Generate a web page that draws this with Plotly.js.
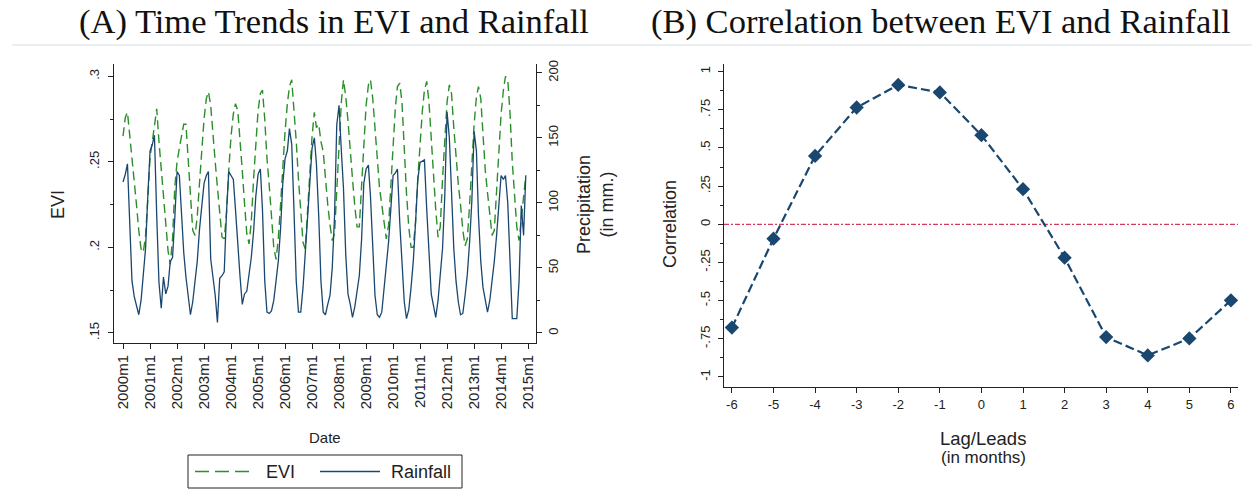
<!DOCTYPE html>
<html>
<head>
<meta charset="utf-8">
<script src="https://cdn.plot.ly/plotly-3.0.1.min.js"></script>
<style>html,body{margin:0;padding:0;background:#fff}#chart{width:1252px;height:493px}</style>
</head>
<body>
<div id="chart"></div>
<script>
// ---- Data ----
const startYear = 2000;
const eviValues = [
  .265,.276,.279,.266,.253,.237,.225,.210,.199,.197,.207,.228,
  .253,.262,.272,.281,.262,.245,.228,.212,.198,.190,.205,.235,
  .250,.258,.266,.272,.272,.252,.228,.210,.207,.218,.238,.258,
  .275,.287,.291,.283,.265,.250,.235,.218,.206,.205,.220,.245,
  .265,.278,.284,.280,.265,.245,.226,.208,.202,.215,.240,.262,
  .280,.290,.292,.275,.252,.236,.219,.200,.193,.205,.225,.248,
  .268,.284,.294,.298,.282,.262,.240,.222,.203,.199,.220,.245,
  .265,.279,.270,.272,.262,.256,.240,.225,.213,.204,.208,.232,
  .262,.285,.298,.288,.274,.255,.240,.224,.212,.212,.235,.262,
  .283,.295,.298,.287,.268,.248,.235,.225,.214,.205,.213,.235,
  .262,.282,.294,.296,.285,.255,.232,.212,.200,.200,.215,.240,
  .262,.280,.292,.297,.285,.262,.240,.222,.206,.212,.240,.265,
  .285,.295,.290,.270,.252,.237,.225,.210,.201,.205,.225,.250,
  .272,.288,.294,.287,.266,.245,.232,.220,.207,.210,.232,.258,
  .278,.292,.300,.298,.279,.250,.228,.212,.204,.218,.232,.242
];
const rainValues = [
  116,122,130,85,40,28,20,14,25,45,65,105,
  140,145,152,90,39,19,43,30,36,55,58,88,
  124,121,90,62,43,30,14,24,39,55,80,100,
  115,121,124,57,44,29,8,42,44,47,93,124,
  121,118,95,65,44,22,30,32,45,58,78,105,
  122,126,95,40,16,15,17,25,40,55,80,115,
  134,140,157,145,95,40,16,16,35,60,90,119,
  142,150,130,90,40,16,14,22,29,50,90,160,
  175,140,111,60,30,22,12,20,32,44,72,115,
  126,129,105,65,29,14,12,16,35,52,70,95,
  121,123,126,85,55,24,11,18,35,55,85,118,
  131,132,133,95,60,30,21,12,25,43,65,105,
  170,150,101,65,40,24,14,15,29,45,70,101,
  155,140,90,55,35,24,16,25,39,55,75,101,
  121,118,121,100,55,11,11,11,40,98,75,121
];
const lagLeads = [-6,-5,-4,-3,-2,-1,0,1,2,3,4,5,6];
const correlation = [-0.677,-0.094,0.448,0.765,0.913,0.864,0.584,0.230,-0.219,-0.739,-0.859,-0.748,-0.498];
const yearTicks = [2000,2001,2002,2003,2004,2005,2006,2007,2008,2009,2010,2011,2012,2013,2014,2015];
const eviTickVals = [0.15,0.2,0.25,0.3];
const eviTickText = ['.15','.2','.25','.3'];
const rainTickVals = [0,50,100,150,200];
const corrTickVals = [-1,-0.75,-0.5,-0.25,0,0.25,0.5,0.75,1];
const corrTickText = ['-1','-.75','-.5','-.25','0','.25','.5','.75','1'];
const seriesNames = ['EVI', 'Rainfall'];

// ---- Build ----
const pad = n => (n < 10 ? '0' : '') + n;
const dates = eviValues.map((_, i) => (startYear + Math.floor(i / 12)) + '-' + pad(i % 12 + 1) + '-01');

const W = 1252, H = 493;
const px = v => v / W;
const py = v => (H - v) / H;

const navy = '#1a476f';
const green = '#2a8f2a';
const ink = '#222';
const sans = 'Liberation Sans, Arial, sans-serif';
const serif = 'Liberation Serif, DejaVu Serif, serif';

const eviLine = {color: green, width: 1.4, dash: '9px,5px'};
const rainLine = {color: navy, width: 1.3};

const traces = [
  {x: dates, y: eviValues, xaxis: 'x', yaxis: 'y', type: 'scatter', mode: 'lines', name: seriesNames[0],
   line: eviLine, showlegend: false},
  {x: dates, y: rainValues, xaxis: 'x', yaxis: 'y2', type: 'scatter', mode: 'lines', name: seriesNames[1],
   line: rainLine, showlegend: false},
  {x: lagLeads, y: correlation, xaxis: 'x2', yaxis: 'y3', type: 'scatter', mode: 'lines+markers',
   name: 'Correlation', showlegend: false,
   line: {color: navy, width: 2.2, dash: '9px,4px'},
   marker: {symbol: 'diamond', size: 11, color: navy}}
];

const axisCommon = {
  showgrid: false, zeroline: false, showline: true, linecolor: ink, linewidth: 1,
  ticks: 'outside', ticklen: 5, tickcolor: ink, tickwidth: 1,
  tickfont: {family: sans, size: 13, color: ink}, fixedrange: true
};

const layout = {
  width: W, height: H,
  margin: {l: 0, r: 0, t: 0, b: 0},
  paper_bgcolor: '#fff', plot_bgcolor: '#fff',
  showlegend: false,
  xaxis: Object.assign({}, axisCommon, {
    domain: [px(114), px(536)], anchor: 'y', type: 'date',
    range: ['1999-09-01', '2015-04-18'],
    tickmode: 'array', tickvals: yearTicks.map(y => y + '-01-01'),
    ticktext: yearTicks.map(y => y + 'm1'), tickangle: -90,
    tickfont: {family: sans, size: 15, color: ink}
  }),
  yaxis: Object.assign({}, axisCommon, {
    domain: [py(343), py(64)], anchor: 'x', range: [0.1441, 0.3072],
    tickmode: 'array', tickvals: eviTickVals, ticktext: eviTickText, tickangle: -90,
    ticklabelstandoff: 4,
    minor: {tickmode: 'array', tickvals: [0.175, 0.225, 0.275], ticks: 'outside', ticklen: 3, tickcolor: ink}
  }),
  yaxis2: Object.assign({}, axisCommon, {
    overlaying: 'y', side: 'right', anchor: 'x', range: [-7.7, 206.7],
    tickmode: 'array', tickvals: rainTickVals, tickangle: -90,
    minor: {tickmode: 'array', tickvals: [25, 75, 125, 175], ticks: 'outside', ticklen: 3, tickcolor: ink}
  }),
  xaxis2: Object.assign({}, axisCommon, {
    domain: [px(724), px(1238)], anchor: 'y3', range: [-6.19, 6.17],
    tickmode: 'array', tickvals: lagLeads, ticktext: lagLeads.map(String),
    tickfont: {family: sans, size: 13, color: ink}
  }),
  yaxis3: Object.assign({}, axisCommon, {
    domain: [py(387), py(64)], anchor: 'x2', range: [-1.066, 1.05],
    tickmode: 'array', tickvals: corrTickVals, ticktext: corrTickText, tickangle: -90,
    ticklabelstandoff: 3,
    minor: {tickmode: 'array', tickvals: [-0.875,-0.625,-0.375,-0.125,0.125,0.375,0.625,0.875],
            ticks: 'outside', ticklen: 3, tickcolor: ink}
  }),
  shapes: [
    {type: 'line', xref: 'paper', yref: 'paper', x0: px(12), x1: 1, y0: py(45), y1: py(45),
     line: {color: '#e4e9ec', width: 1.5}},
    {type: 'line', xref: 'x2 domain', yref: 'y3', x0: 0, x1: 1, y0: 0, y1: 0,
     line: {color: '#d23a5f', width: 1.2, dash: '5px,2px,2px,2px'}, layer: 'below'},
    // legend frame and keys
    {type: 'rect', xref: 'paper', yref: 'paper', x0: px(188), x1: px(462), y0: py(488), y1: py(455),
     line: {color: ink, width: 1}, fillcolor: 'rgba(0,0,0,0)'},
    {type: 'line', xref: 'paper', yref: 'paper', x0: px(195), x1: px(255), y0: py(471.5), y1: py(471.5),
     line: {color: green, width: 1.4, dash: '14px,6px'}},
    {type: 'line', xref: 'paper', yref: 'paper', x0: px(320), x1: px(380), y0: py(471.5), y1: py(471.5),
     line: rainLine}
  ],
  annotations: [
    {text: '(A) Time Trends in EVI and Rainfall', xref: 'paper', yref: 'paper',
     x: px(334), y: py(22), xanchor: 'center', yanchor: 'middle', showarrow: false,
     font: {family: serif, size: 34.5, color: '#111'}},
    {text: '(B) Correlation between EVI and Rainfall', xref: 'paper', yref: 'paper',
     x: px(941), y: py(22), xanchor: 'center', yanchor: 'middle', showarrow: false,
     font: {family: serif, size: 34.5, color: '#111'}},
    {text: 'EVI', xref: 'paper', yref: 'paper', x: px(58), y: py(205), textangle: -90,
     xanchor: 'center', yanchor: 'middle', showarrow: false, font: {family: sans, size: 18, color: ink}},
    {text: 'Precipitation<br>(in mm.)', xref: 'paper', yref: 'paper', x: px(595), y: py(205), textangle: -90,
     xanchor: 'center', yanchor: 'middle', showarrow: false, font: {family: sans, size: 18, color: ink}},
    {text: 'Date', xref: 'paper', yref: 'paper', x: px(325), y: py(437),
     xanchor: 'center', yanchor: 'middle', showarrow: false, font: {family: sans, size: 15, color: ink}},
    {text: 'Correlation', xref: 'paper', yref: 'paper', x: px(670), y: py(224), textangle: -90,
     xanchor: 'center', yanchor: 'middle', showarrow: false, font: {family: sans, size: 18, color: ink}},
    {text: 'Lag/Leads', xref: 'paper', yref: 'paper', x: px(983), y: py(438),
     xanchor: 'center', yanchor: 'middle', showarrow: false, font: {family: sans, size: 18.5, color: ink}},
    {text: '(in months)', xref: 'paper', yref: 'paper', x: px(983), y: py(457),
     xanchor: 'center', yanchor: 'middle', showarrow: false, font: {family: sans, size: 17, color: ink}},
    {text: seriesNames[0], xref: 'paper', yref: 'paper', x: px(264), y: py(471.5),
     xanchor: 'left', yanchor: 'middle', showarrow: false, font: {family: sans, size: 18, color: ink}},
    {text: seriesNames[1], xref: 'paper', yref: 'paper', x: px(389), y: py(471.5),
     xanchor: 'left', yanchor: 'middle', showarrow: false, font: {family: sans, size: 18, color: ink}}
  ]
};

Plotly.newPlot('chart', traces, layout, {staticPlot: true, displayModeBar: false});
</script>
</body>
</html>
